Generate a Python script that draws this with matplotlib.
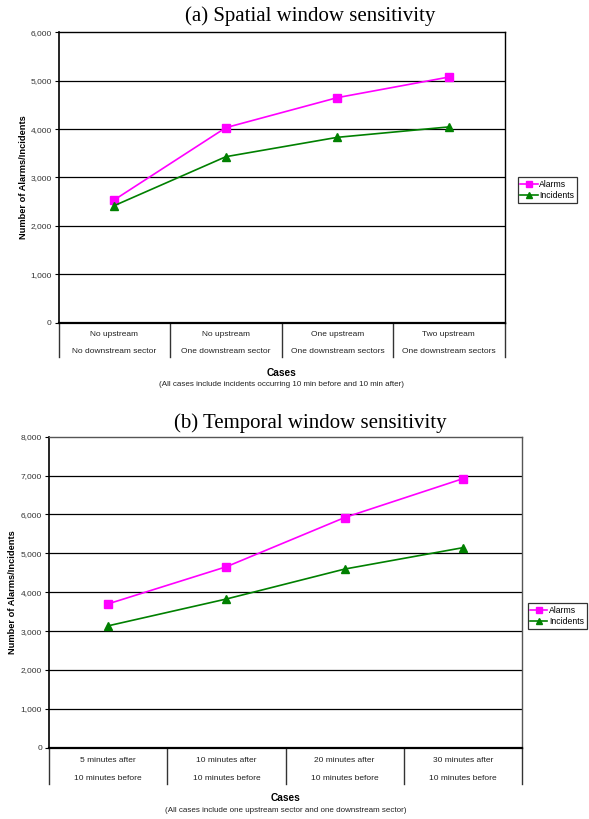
import matplotlib
matplotlib.use("Agg")
import matplotlib.pyplot as plt
import matplotlib.transforms as mtransforms
import numpy as np

# ---------------- data ----------------
spatial_row1 = ["No upstream", "No upstream", "One upstream", "Two upstream"]
spatial_row2 = ["No downstream sector", "One downstream sector",
                "One downstream sectors", "One downstream sectors"]
spatial_alarms = [2540, 4030, 4650, 5075]
spatial_incidents = [2420, 3430, 3830, 4045]

temporal_row1 = ["5 minutes after", "10 minutes after", "20 minutes after", "30 minutes after"]
temporal_row2 = ["10 minutes before", "10 minutes before", "10 minutes before", "10 minutes before"]
temporal_alarms = [3700, 4655, 5920, 6920]
temporal_incidents = [3135, 3825, 4595, 5145]

spatial_yticks = [0, 1000, 2000, 3000, 4000, 5000, 6000]
temporal_yticks = [0, 1000, 2000, 3000, 4000, 5000, 6000, 7000, 8000]

W, H = 589, 819
fig = plt.figure(figsize=(W / 100, H / 100), dpi=100)
sans = ["Liberation Sans", "DejaVu Sans"]
serif = ["Liberation Serif", "DejaVu Serif"]

MAG = "#FF00FF"
GRN = "#008000"


def axes_rect(l, t, r, b):
    return [l / W, 1 - b / H, (r - l) / W, (b - t) / H]


def draw_panel(rect, alarms, incidents, row1, row2, yticks, title, title_y,
               note, ylab_x, row_y, sep_bottom, cases_y, note_y, leg_box, right_col):
    l, t, r, b = rect
    ax = fig.add_axes(axes_rect(l, t, r, b))
    x = np.arange(len(alarms))
    ax.plot(x, alarms, color=MAG, lw=1.2, marker="s", ms=5.5, label="Alarms", zorder=3)
    ax.plot(x, incidents, color=GRN, lw=1.2, marker="^", ms=5.5, label="Incidents", zorder=3)
    ax.set_xlim(-0.5, len(alarms) - 0.5)
    ax.set_ylim(yticks[0], yticks[-1])
    ax.set_yticks(yticks)
    ax.set_yticklabels([f"{v:,}" for v in yticks], fontsize=6.0, family=sans, color="#333333")
    ax.tick_params(axis="y", direction="out", length=3, width=0.8, pad=2)
    ax.set_xticks([])
    for v in yticks[1:-1]:
        ax.axhline(v, color="black", lw=0.9, zorder=1)
    for s in ax.spines.values():
        s.set_color("black")
        s.set_linewidth(1.0)
    ax.spines["right"].set_color(right_col)
    ax.spines["top"].set_color(right_col)
    ax.spines["left"].set_linewidth(1.2)
    ax.spines["bottom"].set_linewidth(1.6)

    # category rows below axis
    trans = mtransforms.blended_transform_factory(ax.transData, fig.transFigure)
    for i in range(len(row1)):
        ax.text(i, 1 - row_y[0] / H, row1[i], transform=trans, ha="center", va="center",
                fontsize=6.0, family=sans, color="#222222")
        ax.text(i, 1 - row_y[1] / H, row2[i], transform=trans, ha="center", va="center",
                fontsize=6.0, family=sans, color="#222222")
    for k in range(len(row1) + 1):
        xs = k - 0.5
        ax.plot([xs, xs], [1 - b / H, 1 - sep_bottom / H], transform=trans,
                color="#333333", lw=1.0, clip_on=False)

    cx = (l + r) / 2 / W
    fig.text(cx, 1 - cases_y / H, "Cases", ha="center", va="center", fontsize=7.3,
             fontweight="bold", family=sans)
    fig.text(cx, 1 - note_y / H, note, ha="center", va="center", fontsize=5.8, family=sans,
             color="#222222")
    fig.text(310 / W, 1 - title_y / H, title, ha="center", va="center", fontsize=15,
             family=serif)
    fig.text(ylab_x / W, 1 - (t + b) / 2 / H, "Number of Alarms/Incidents", rotation=90,
             ha="center", va="center", fontsize=6.7, fontweight="bold", family=sans)

    lx, ly = leg_box
    leg = fig.legend(handles=ax.get_lines()[:2], loc="upper left",
                     bbox_to_anchor=(lx / W, 1 - ly / H), bbox_transform=fig.transFigure,
                     prop={"family": sans, "size": 6.2}, frameon=True, fancybox=False,
                     edgecolor="black", handlelength=2.0, handletextpad=0.2,
                     borderpad=0.3, labelspacing=0.3, borderaxespad=0, markerscale=0.8)
    leg.get_frame().set_linewidth(0.9)
    return ax


draw_panel((58.7, 32.3, 504.5, 322.7), spatial_alarms, spatial_incidents,
           spatial_row1, spatial_row2, spatial_yticks,
           "(a) Spatial window sensitivity", 16.5,
           "(All cases include incidents occurring 10 min before and 10 min after)",
           24, (334.3, 351.7), 357, 373.3, 385.0, (517.7, 177.3), "black")

draw_panel((49.0, 436.7, 522.0, 747.7), temporal_alarms, temporal_incidents,
           temporal_row1, temporal_row2, temporal_yticks,
           "(b) Temporal window sensitivity", 423,
           "(All cases include one upstream sector and one downstream sector)",
           13, (760.3, 778.3), 783.5, 797.7, 810.0, (527.5, 603.3), "#555555")

fig.savefig("out.png", dpi=100)
